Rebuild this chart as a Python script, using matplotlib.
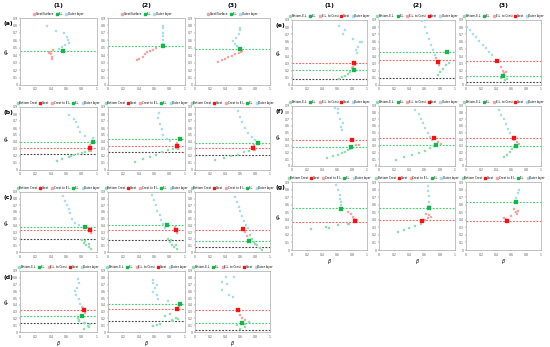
import matplotlib
matplotlib.use("Agg")
import matplotlib.pyplot as plt
from matplotlib.lines import Line2D

# colours used in the panels
BLUE = '#a9dcf0'
PINK = '#f6a5a5'
MINT = '#8fdfae'
GREEN = '#10b84a'
RED = '#ff1010'

# ---- panel data: (beta, phi) pairs ----
# row (a): only crest/surface, E.L. and outer layer
a1_outer = [(0.35, 0.79), (0.47, 0.73), (0.565, 0.70), (0.61, 0.65), (0.62, 0.61),
            (0.63, 0.57), (0.59, 0.54), (0.54, 0.51), (0.51, 0.48)]
a1_mid = [(0.43, 0.47), (0.39, 0.45), (0.38, 0.43), (0.40, 0.41), (0.41, 0.38), (0.42, 0.35)]
a1_el = (0.56, 0.46)
a1_levels = (0.46, None, None)

a2_outer = [(0.72, 0.79), (0.72, 0.76), (0.71, 0.70), (0.71, 0.66), (0.72, 0.60), (0.72, 0.55)]
a2_mid = [(0.38, 0.33), (0.40, 0.35), (0.46, 0.38), (0.48, 0.42), (0.51, 0.44),
          (0.54, 0.46), (0.58, 0.47), (0.62, 0.50)]
a2_el = (0.72, 0.52)
a2_levels = (0.52, None, None)

a3_outer = [(0.60, 0.76), (0.60, 0.74), (0.59, 0.69), (0.54, 0.63), (0.51, 0.59),
            (0.53, 0.55), (0.56, 0.52)]
a3_mid = [(0.31, 0.31), (0.36, 0.33), (0.40, 0.35), (0.44, 0.37), (0.49, 0.39),
          (0.53, 0.41), (0.58, 0.43), (0.61, 0.45), (0.62, 0.46)]
a3_el = (0.60, 0.48)
a3_levels = (0.48, None, None)

# rows (b)-(g): lower points, transition, outer layer, crest and E.L.
b1_outer = [(0.64, 0.79), (0.70, 0.73), (0.73, 0.68), (0.75, 0.62), (0.78, 0.55),
            (0.85, 0.49), (0.95, 0.45)]
b1_lower = [(0.48, 0.13), (0.54, 0.16), (0.63, 0.19), (0.66, 0.20), (0.70, 0.21),
            (0.75, 0.23), (0.80, 0.24), (0.85, 0.25), (0.89, 0.27), (0.91, 0.28)]
b1_mid = [(0.91, 0.36), (0.92, 0.27)]
b1_crest = (0.91, 0.32)
b1_el = (0.95, 0.40)
b1_levels = (0.40, 0.31, 0.23)

b2_outer = [(0.66, 0.82), (0.65, 0.74), (0.68, 0.66), (0.70, 0.58), (0.72, 0.50),
            (0.76, 0.44), (0.80, 0.41)]
b2_lower = [(0.35, 0.11), (0.45, 0.15), (0.55, 0.19), (0.62, 0.22), (0.70, 0.25),
            (0.78, 0.28), (0.84, 0.30), (0.88, 0.32)]
b2_mid = [(0.90, 0.38), (0.91, 0.30)]
b2_crest = (0.90, 0.34)
b2_el = (0.93, 0.44)
b2_levels = (0.44, 0.34, 0.26)

b3_outer = [(0.57, 0.85), (0.60, 0.76), (0.63, 0.68), (0.66, 0.60), (0.70, 0.53),
            (0.76, 0.47), (0.80, 0.43)]
b3_lower = [(0.27, 0.14), (0.38, 0.17), (0.48, 0.20), (0.57, 0.22), (0.65, 0.25),
            (0.72, 0.27), (0.78, 0.29)]
b3_mid = [(0.79, 0.35), (0.80, 0.28)]
b3_crest = (0.77, 0.31)
b3_el = (0.84, 0.39)
b3_levels = (0.39, 0.31, 0.21)

c1_outer = [(0.56, 0.84), (0.59, 0.77), (0.61, 0.70), (0.63, 0.64), (0.65, 0.58),
            (0.68, 0.50), (0.71, 0.44), (0.76, 0.40)]
c1_lower = [(0.80, 0.18), (0.83, 0.14), (0.86, 0.10), (0.89, 0.07), (0.92, 0.05),
            (0.85, 0.17), (0.90, 0.12)]
c1_mid = [(0.90, 0.36), (0.92, 0.29)]
c1_crest = (0.91, 0.33)
c1_el = (0.84, 0.38)
c1_levels = (0.38, 0.33, 0.20)

c2_outer = [(0.57, 0.85), (0.60, 0.78), (0.62, 0.70), (0.64, 0.62), (0.67, 0.55),
            (0.69, 0.48), (0.72, 0.42), (0.74, 0.36)]
c2_lower = [(0.78, 0.20), (0.80, 0.15), (0.83, 0.11), (0.86, 0.07), (0.89, 0.04),
            (0.82, 0.18), (0.88, 0.10)]
c2_mid = [(0.87, 0.37), (0.89, 0.29)]
c2_crest = (0.88, 0.33)
c2_el = (0.76, 0.40)
c2_levels = (0.40, 0.33, 0.18)

c3_outer = [(0.53, 0.82), (0.56, 0.75), (0.58, 0.68), (0.60, 0.61), (0.62, 0.54),
            (0.65, 0.47), (0.68, 0.41), (0.70, 0.36)]
c3_lower = [(0.73, 0.25), (0.76, 0.20), (0.79, 0.15), (0.83, 0.10), (0.86, 0.06),
            (0.89, 0.03), (0.80, 0.12)]
c3_mid = [(0.66, 0.30), (0.69, 0.24)]
c3_crest = (0.64, 0.34)
c3_el = (0.72, 0.17)
c3_levels = (0.17, 0.33, 0.08)

d1_outer = [(0.75, 0.78), (0.76, 0.72), (0.74, 0.65), (0.72, 0.61), (0.73, 0.54),
            (0.76, 0.49), (0.78, 0.42), (0.80, 0.37)]
d1_lower = [(0.75, 0.21), (0.76, 0.18), (0.77, 0.16), (0.83, 0.13), (0.85, 0.14),
            (0.88, 0.09), (0.90, 0.08), (0.91, 0.12), (0.83, 0.05)]
d1_mid = [(0.82, 0.35), (0.84, 0.28)]
d1_crest = (0.83, 0.32)
d1_el = (0.80, 0.23)
d1_levels = (0.23, 0.32, 0.13)

d2_outer = [(0.58, 0.77), (0.58, 0.73), (0.63, 0.70), (0.61, 0.65), (0.58, 0.59),
            (0.63, 0.55), (0.65, 0.49), (0.78, 0.46)]
d2_lower = [(0.58, 0.09), (0.63, 0.10), (0.67, 0.12), (0.74, 0.23), (0.81, 0.26),
            (0.83, 0.18), (0.85, 0.16), (0.88, 0.21), (0.91, 0.19)]
d2_mid = [(0.92, 0.38)]
d2_crest = (0.90, 0.34)
d2_el = (0.93, 0.42)
d2_levels = (0.42, 0.34, 0.16)

d3_outer = [(0.52, 0.81), (0.41, 0.81), (0.42, 0.71), (0.36, 0.74), (0.36, 0.62),
            (0.45, 0.54), (0.50, 0.52)]
d3_lower = [(0.56, 0.10), (0.60, 0.05), (0.67, 0.12), (0.72, 0.15), (0.66, 0.07)]
d3_mid = [(0.60, 0.25), (0.63, 0.20), (0.67, 0.17)]
d3_crest = (0.57, 0.32)
d3_el = (0.62, 0.14)
d3_levels = (0.14, 0.32, 0.03)

e1_outer = [(0.63, 0.81), (0.70, 0.76), (0.68, 0.71), (0.81, 0.63), (0.93, 0.60),
            (0.91, 0.59), (0.88, 0.53), (0.85, 0.48), (0.87, 0.44)]
e1_lower = [(0.62, 0.08), (0.66, 0.11), (0.70, 0.12), (0.75, 0.15), (0.77, 0.18)]
e1_mid = [(0.81, 0.25), (0.80, 0.23), (0.84, 0.27)]
e1_crest = (0.83, 0.31)
e1_el = (0.83, 0.21)
e1_levels = (0.21, 0.31, 0.08)

e2_outer = [(0.57, 0.88), (0.60, 0.80), (0.63, 0.72), (0.66, 0.64), (0.69, 0.56),
            (0.71, 0.49), (0.74, 0.42)]
e2_lower = [(0.77, 0.14), (0.80, 0.18), (0.84, 0.22), (0.88, 0.27), (0.92, 0.30)]
e2_mid = [(0.75, 0.38), (0.79, 0.28)]
e2_crest = (0.77, 0.32)
e2_el = (0.90, 0.46)
e2_levels = (0.46, 0.35, 0.10)

e3_outer = [(0.01, 0.80), (0.05, 0.76), (0.09, 0.71), (0.13, 0.66), (0.17, 0.61),
            (0.22, 0.56), (0.26, 0.51), (0.30, 0.46), (0.35, 0.41)]
e3_lower = [(0.49, 0.12), (0.52, 0.07), (0.54, 0.09), (0.46, 0.10)]
e3_mid = [(0.47, 0.25), (0.49, 0.20), (0.51, 0.16), (0.53, 0.18)]
e3_crest = (0.41, 0.33)
e3_el = (0.49, 0.12)
e3_levels = (0.12, 0.33, 0.04)

f1_outer = [(0.57, 0.87), (0.61, 0.85), (0.61, 0.79), (0.64, 0.71), (0.68, 0.64),
            (0.65, 0.59), (0.66, 0.54), (0.79, 0.41)]
f1_lower = [(0.46, 0.12), (0.55, 0.15), (0.61, 0.17), (0.66, 0.19), (0.70, 0.21),
            (0.75, 0.24), (0.77, 0.26)]
f1_mid = [(0.85, 0.32), (0.89, 0.31)]
f1_crest = (0.80, 0.39)
f1_el = (0.79, 0.29)
f1_levels = (0.28, 0.39, None)

f2_outer = [(0.48, 0.84), (0.52, 0.78), (0.55, 0.71), (0.58, 0.64), (0.61, 0.57),
            (0.64, 0.50), (0.67, 0.44), (0.70, 0.39)]
f2_lower = [(0.22, 0.09), (0.33, 0.13), (0.43, 0.16), (0.52, 0.19), (0.60, 0.23),
            (0.67, 0.27), (0.72, 0.30)]
f2_mid = [(0.78, 0.36), (0.82, 0.33)]
f2_crest = (0.73, 0.42)
f2_el = (0.75, 0.31)
f2_levels = (0.31, 0.42, None)

f3_outer = [(0.44, 0.84), (0.47, 0.77), (0.50, 0.70), (0.53, 0.63), (0.56, 0.56),
            (0.59, 0.50), (0.62, 0.44), (0.64, 0.39)]
f3_lower = [(0.50, 0.13), (0.54, 0.17), (0.58, 0.21), (0.61, 0.25), (0.64, 0.28)]
f3_mid = [(0.68, 0.36), (0.71, 0.33)]
f3_crest = (0.64, 0.42)
f3_el = (0.66, 0.30)
f3_levels = (0.30, 0.42, None)

g1_outer = [(0.59, 0.86), (0.61, 0.80), (0.64, 0.73), (0.64, 0.67), (0.65, 0.63),
            (0.65, 0.59)]
g1_lower = [(0.25, 0.28), (0.45, 0.30), (0.49, 0.29), (0.61, 0.33), (0.74, 0.35),
            (0.76, 0.34)]
g1_mid = [(0.74, 0.50), (0.79, 0.47), (0.81, 0.44), (0.83, 0.41), (0.86, 0.40)]
g1_crest = (0.84, 0.38)
g1_el = (0.65, 0.54)
g1_levels = (0.55, 0.37, None)

g2_outer = [(0.64, 0.85), (0.65, 0.78), (0.66, 0.71), (0.66, 0.64), (0.66, 0.58)]
g2_lower = [(0.25, 0.24), (0.33, 0.27), (0.40, 0.29), (0.48, 0.32), (0.55, 0.35)]
g2_mid = [(0.62, 0.48), (0.66, 0.46), (0.69, 0.44), (0.64, 0.42), (0.60, 0.40)]
g2_crest = (0.57, 0.38)
g2_el = (0.66, 0.55)
g2_levels = (0.55, 0.40, None)

g3_outer = [(0.70, 0.79), (0.69, 0.75), (0.67, 0.69), (0.66, 0.65)]
g3_lower = []
g3_mid = [(0.64, 0.54), (0.66, 0.50), (0.69, 0.52), (0.68, 0.48), (0.60, 0.45),
          (0.53, 0.41), (0.51, 0.43)]
g3_crest = (0.54, 0.38)
g3_el = (0.67, 0.63)
g3_levels = (0.63, 0.38, None)

row_a = [(a1_outer, a1_mid, a1_el, a1_levels), (a2_outer, a2_mid, a2_el, a2_levels),
         (a3_outer, a3_mid, a3_el, a3_levels)]
rows = {
    'b': [(b1_outer, b1_lower, b1_mid, b1_crest, b1_el, b1_levels),
          (b2_outer, b2_lower, b2_mid, b2_crest, b2_el, b2_levels),
          (b3_outer, b3_lower, b3_mid, b3_crest, b3_el, b3_levels)],
    'c': [(c1_outer, c1_lower, c1_mid, c1_crest, c1_el, c1_levels),
          (c2_outer, c2_lower, c2_mid, c2_crest, c2_el, c2_levels),
          (c3_outer, c3_lower, c3_mid, c3_crest, c3_el, c3_levels)],
    'd': [(d1_outer, d1_lower, d1_mid, d1_crest, d1_el, d1_levels),
          (d2_outer, d2_lower, d2_mid, d2_crest, d2_el, d2_levels),
          (d3_outer, d3_lower, d3_mid, d3_crest, d3_el, d3_levels)],
    'e': [(e1_outer, e1_lower, e1_mid, e1_crest, e1_el, e1_levels),
          (e2_outer, e2_lower, e2_mid, e2_crest, e2_el, e2_levels),
          (e3_outer, e3_lower, e3_mid, e3_crest, e3_el, e3_levels)],
    'f': [(f1_outer, f1_lower, f1_mid, f1_crest, f1_el, f1_levels),
          (f2_outer, f2_lower, f2_mid, f2_crest, f2_el, f2_levels),
          (f3_outer, f3_lower, f3_mid, f3_crest, f3_el, f3_levels)],
    'g': [(g1_outer, g1_lower, g1_mid, g1_crest, g1_el, g1_levels),
          (g2_outer, g2_lower, g2_mid, g2_crest, g2_el, g2_levels),
          (g3_outer, g3_lower, g3_mid, g3_crest, g3_el, g3_levels)],
}

# legend texts
legend_a = [("Crest/Surface", PINK), ("E.L.", GREEN), ("Outer layer", BLUE)]
legend_crest_first = [("Bottom Crest", MINT), ("Crest", RED), ("Crest to E.L.", PINK),
                      ("E.L.", GREEN), ("Outer layer", BLUE)]
legend_el_first = [("Bottom-E.L.", MINT), ("E.L.", GREEN), ("E.L. to Crest", PINK),
                   ("Crest", RED), ("Outer layer", BLUE)]
row_legends = {'b': legend_crest_first, 'c': legend_crest_first, 'd': legend_el_first,
               'e': legend_el_first, 'f': legend_el_first, 'g': legend_crest_first}

x_ticks = [0, 0.2, 0.4, 0.6, 0.8, 1]
y_ticks = [0, 0.1, 0.2, 0.3, 0.4, 0.5, 0.6, 0.7, 0.8, 0.9]

W, H = 550, 347
left_cols = [(20, 97), (108, 185), (195, 270)]
right_cols = [(292, 367), (379, 455), (466, 541)]
row_pos = {'a': (18, 85, left_cols), 'b': (107, 170, left_cols), 'c': (192, 252, left_cols),
           'd': (271, 332, left_cols), 'e': (20, 85, right_cols), 'f': (106, 166, right_cols),
           'g': (182, 250, right_cols)}

fig = plt.figure(figsize=(5.5, 3.47), dpi=100)


def make_ax(x0, x1, top, bottom):
    ax = fig.add_axes([x0 / W, 1 - bottom / H, (x1 - x0) / W, (bottom - top) / H])
    ax.set_xlim(0, 1)
    ax.set_ylim(0, 0.9)
    ax.set_xticks(x_ticks)
    ax.set_xticklabels(['0', '0.2', '0.4', '0.6', '0.8', '1'])
    ax.set_yticks(y_ticks)
    ax.set_yticklabels(['0'] + ['%.1f' % v for v in y_ticks[1:]])
    ax.tick_params(labelsize=2.2, length=1, width=0.3, pad=0.8, colors='#555555')
    for s in ax.spines.values():
        s.set_color('#aaaaaa')
        s.set_linewidth(0.5)
    return ax


def pts(ax, data, color, ms=1.9, edge=None):
    if not data:
        return
    xs = [p[0] for p in data]
    ys = [p[1] for p in data]
    ax.plot(xs, ys, 's', ms=ms, color=color, mec=edge or color, mew=0.2, zorder=3)


def levels(ax, lv):
    for val, col in zip(lv, ['#3fd070', '#ff6060', '#444444']):
        if val is not None:
            ax.axhline(val, color=col, ls=(0, (1.6, 1.4)), lw=0.8, zorder=2)


def legend(ax, entries):
    handles = [Line2D([], [], marker='s', ls='none', ms=2, color=c) for _, c in entries]
    ax.legend(handles, [t for t, _ in entries], loc='lower center', bbox_to_anchor=(0.5, 1.0),
              ncol=len(entries), fontsize=2, frameon=False, handlelength=0.6,
              handletextpad=0.3, columnspacing=0.7, borderaxespad=0.3)


# row (a)
top, bottom, cols = row_pos['a']
for i, (outer, mid, el, lv) in enumerate(row_a):
    ax = make_ax(cols[i][0], cols[i][1], top, bottom)
    levels(ax, lv)
    pts(ax, outer, BLUE)
    pts(ax, mid, PINK)
    pts(ax, [el], GREEN, ms=2.4)
    legend(ax, legend_a)
    if i == 0:
        ax.set_ylabel(r'$\varphi_s$', fontsize=4, labelpad=1)

for key, panels in rows.items():
    top, bottom, cols = row_pos[key]
    for i, (outer, lower, mid, crest, el, lv) in enumerate(panels):
        ax = make_ax(cols[i][0], cols[i][1], top, bottom)
        levels(ax, lv)
        pts(ax, outer, BLUE)
        pts(ax, lower, MINT)
        pts(ax, mid, PINK)
        pts(ax, [el], GREEN, ms=2.4)
        pts(ax, [crest], RED, ms=2.4)
        legend(ax, row_legends[key])
        if i == 0:
            ax.set_ylabel(r'$\varphi_s$', fontsize=4, labelpad=1)
        if key in ('d', 'g'):
            ax.set_xlabel(r'$\beta$', fontsize=3.5, labelpad=0)

# column headers and row labels
for cols in (left_cols, right_cols):
    for j, (x0, x1) in enumerate(cols):
        fig.text((x0 + x1) / 2 / W, 1 - 5 / H, '(%d)' % (j + 1), ha='center', va='center',
                 fontsize=4.5, fontweight='bold')
for key, (top, bottom, cols) in row_pos.items():
    fig.text((cols[0][0] - 12) / W, 1 - (top + 6) / H, '(%s)' % key, ha='center',
             va='center', fontsize=4.5, fontweight='bold')

fig.savefig('out.png', dpi=100)
